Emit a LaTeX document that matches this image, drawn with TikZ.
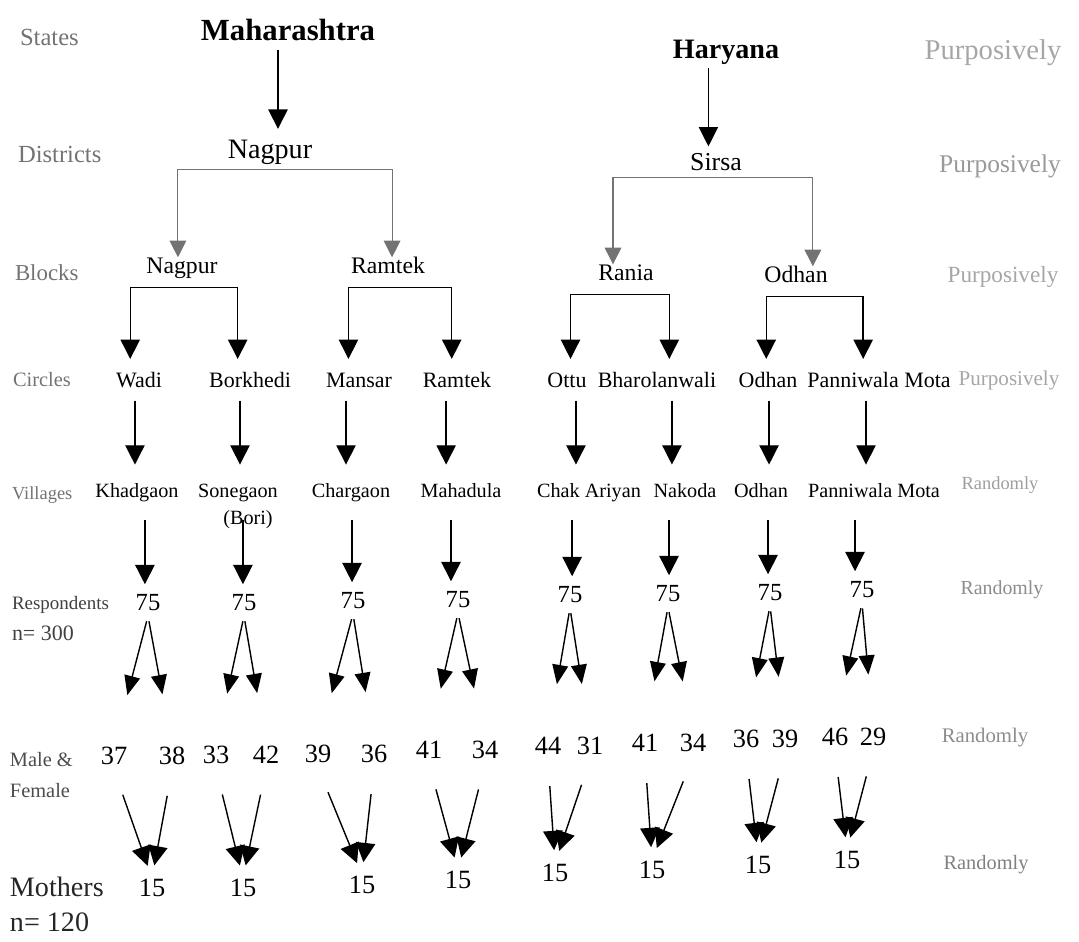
\documentclass[tikz,border=0pt]{standalone}
\usepackage{fontspec}
\setmainfont{Liberation Serif}
\usetikzlibrary{arrows.meta}

\begin{document}
\begin{tikzpicture}[
    x=0.02cm, y=-0.02cm,
    every node/.style={
        inner sep=0pt,
        outer sep=0pt,
    },
    sz/.style={
        font=\fontsize{#1pt}{#1pt}\selectfont,
        text height={0.68*#1pt},
        text depth={0.22*#1pt},
    },
    side/.style={
        text=black!55,
        anchor=west,
        sz=#1,
    },
    how/.style n args={2}{
        text=black!#1,
        sz=#2,
    },
    arr/.style={
        -{Triangle[width=11pt,length=11pt]},
        line width=.8pt,
    },
    garr/.style={
        draw=black!55,
        -{Triangle[width=9.5pt,length=9.5pt]},
        line width=.6pt,
    },
    split/.style={
        -{Triangle[width=9pt,length=11pt]},
        line width=.8pt,
        shorten <=3pt,
        shorten >=30pt,
    },
    merge/.style={
        -{Triangle[width=11pt,length=11pt]},
        line width=.8pt,
        shorten <=15pt,
        shorten >=7.4pt,
    }
]
    \useasboundingbox (0,0) rectangle (1079,942);

    % level labels
    \node[side=14] (lst) at (20,40) {States};
    \node[side=14] (ldi) at (18,157) {Districts};
    \node[side=13] (lbl) at (15,275) {Blocks};
    \node[side=11.6] (lci) at (13,382) {Circles};
    \node[side=10.5] (lvi) at (12,495) {Villages};
    \node[side=10.8, text=black!75] (lre) at (12,605) {Respondents};
    \node[side=12.5, text=black!75] (lnr) at (12,635) {n= 300};
    \node[side=11.6, text=black!70] (lma) at (10,762) {Male \&};
    \node[side=11.6, text=black!70] (lfe) at (10,793) {Female};
    \node[side=16, text=black!85] (lmo) at (10,890) {Mothers};
    \node[side=16, text=black!85] (lnm) at (10,925) {n= 120};

    \node[how={35}{16.3}] (p1) at (993,53) {Purposively};
    \node[how={40}{14.5}] (p2) at (1000,167) {Purposively};
    \node[how={35}{13.2}] (p3) at (1003,277) {Purposively};
    \node[how={35}{12}] (p4) at (1009,381) {Purposively};
    \node[how={38}{10.5}] (q1) at (1000,485) {Randomly};
    \node[how={45}{11.3}] (q2) at (1002,590) {Randomly};
    \node[how={45}{11.8}] (q3) at (985,738) {Randomly};
    \node[how={50}{11.6}] (q4) at (986,865) {Randomly};

    % states, districts, blocks
    \node[sz=17.5] (mah) at (288,33) {\textbf{Maharashtra}};
    \node[sz=16] (har) at (726,52) {\textbf{Haryana}};
    \node[sz=16] (nagd) at (270,152) {Nagpur};
    \node[sz=14.7] (sirsa) at (716,165) {Sirsa};
    \foreach \n/\x/\y/\t in {nagb/182/268/Nagpur, ramb/388/268/Ramtek,
        ranb/626/275/Rania, odhb/796/277/Odhan}{
        \node[sz=13.5] (\n) at (\x,\y) {\t};
    }

    % circles, villages, respondents
    \foreach \i/\x/\t in {1/139/Wadi, 2/250/Borkhedi, 3/359/Mansar, 4/457/Ramtek,
        5/567/Ottu, 6/657/Bharolanwali, 7/768/Odhan, 8/879/Panniwala Mota}{
        \node[sz=12.5] (c\i) at (\x,382) {\t};
    }
    \foreach \i/\x/\t in {1/137/Khadgaon, 2/238/Sonegaon, 3/351/Chargaon, 4/461/Mahadula,
        5/589/Chak Ariyan, 6/685/Nakoda, 7/761/Odhan, 8/874/Panniwala Mota}{
        \node[sz=11.5] (v\i) at (\x,493) {\t};
    }
    \node[sz=11.5] (bori) at (248,520) {(Bori)};
    \foreach \i/\x/\y in {1/148/605, 2/244/605, 3/353/603, 4/458/602,
        5/570/597, 6/668/596, 7/770/595, 8/862/592}{
        \node[sz=14] (r\i) at (\x,\y) {75};
    }

    % male & female, mothers
    \foreach \i/\xa/\na/\xb/\nb/\y in {%
        1/114/37/172/38/758,
        2/216/33/266/42/757,
        3/318/39/374/36/756,
        4/429/41/485/34/752,
        5/548/44/590/31/748,
        6/645/41/693/34/745,
        7/746/36/785/39/741,
        8/835/46/873/29/739%no comma after
    }{
        \node[sz=15] (ma\i) at (\xa,\y) {\na};
        \node[sz=15] (fe\i) at (\xb,\y) {\nb};
    }
    \foreach \i/\x/\y in {1/152/890, 2/243/890, 3/362/887, 4/458/882,
        5/555/875, 6/652/872, 7/758/867, 8/847/862}{
        \node[sz=15] (mo\i) at (\x,\y) {15};
    }

    % connectors
    \draw[arr, shorten <=2pt, shorten >=6pt]
        ([xshift=-5.7pt]mah.south) -- ([xshift=-5.7pt]mah.south |- nagd.north);
    \draw[arr, line width=.6pt, shorten <=2pt, shorten >=4pt]
        ([xshift=-10pt]har.south) -- ([xshift=-10pt]har.south |- sirsa.north);

    \draw[garr] ([yshift=-3pt]nagd.south) -| ([xshift=-2.3pt]nagb.north);
    \draw[garr] ([yshift=-3pt]nagd.south) -| ([xshift=2.3pt]ramb.north);
    \draw[garr] ([yshift=-.5pt]sirsa.south) -| ([xshift=-7.4pt]ranb.north);
    \draw[garr] ([yshift=-.5pt]sirsa.south) -| ([xshift=9.6pt]odhb.north);

    \foreach \b/\l/\xl/\r/\xr in {nagb/1/-5/2/-7, ramb/3/-6/4/-3,
        ranb/5/2/6/7, odhb/7/-1/8/-9}{
        \draw[arr, shorten >=7.5pt] ([yshift=-5pt]\b.south) -| ([xshift=\xl pt]c\l.north);
        \draw[arr, shorten >=7.5pt] ([yshift=-5pt]\b.south) -| ([xshift=\xr pt]c\r.north);
    }

    \foreach \i/\s in {1/-2.3, 2/-5.7, 3/-7.4, 4/-6.2, 5/5.1, 6/8.5, 7/0.6, 8/-7.4}{
        \draw[arr, shorten <=5pt, shorten >=11pt]
            ([xshift=\s pt]c\i.south) -- ([xshift=\s pt]c\i.south |- v\i.north);
    }
    \foreach \i/\s in {1/4.5, 2/2.8, 3/0.6, 4/-5.7, 5/-9.6, 6/-9.1, 7/4, 8/-10.8}{
        \draw[arr, shorten <=10pt, shorten >=5.5pt]
            ([xshift=\s pt]v\i.south) -- ([xshift=\s pt]v\i.south |- r\i.north);
    }

    \foreach \i in {1,...,8}{
        \draw[split] (r\i.south) -- (ma\i.north);
        \draw[split] (r\i.south) -- (fe\i.north);
        \draw[merge] (ma\i.south) -- (mo\i.north);
        \draw[merge] (fe\i.south) -- (mo\i.north);
    }
\end{tikzpicture}
\end{document}
